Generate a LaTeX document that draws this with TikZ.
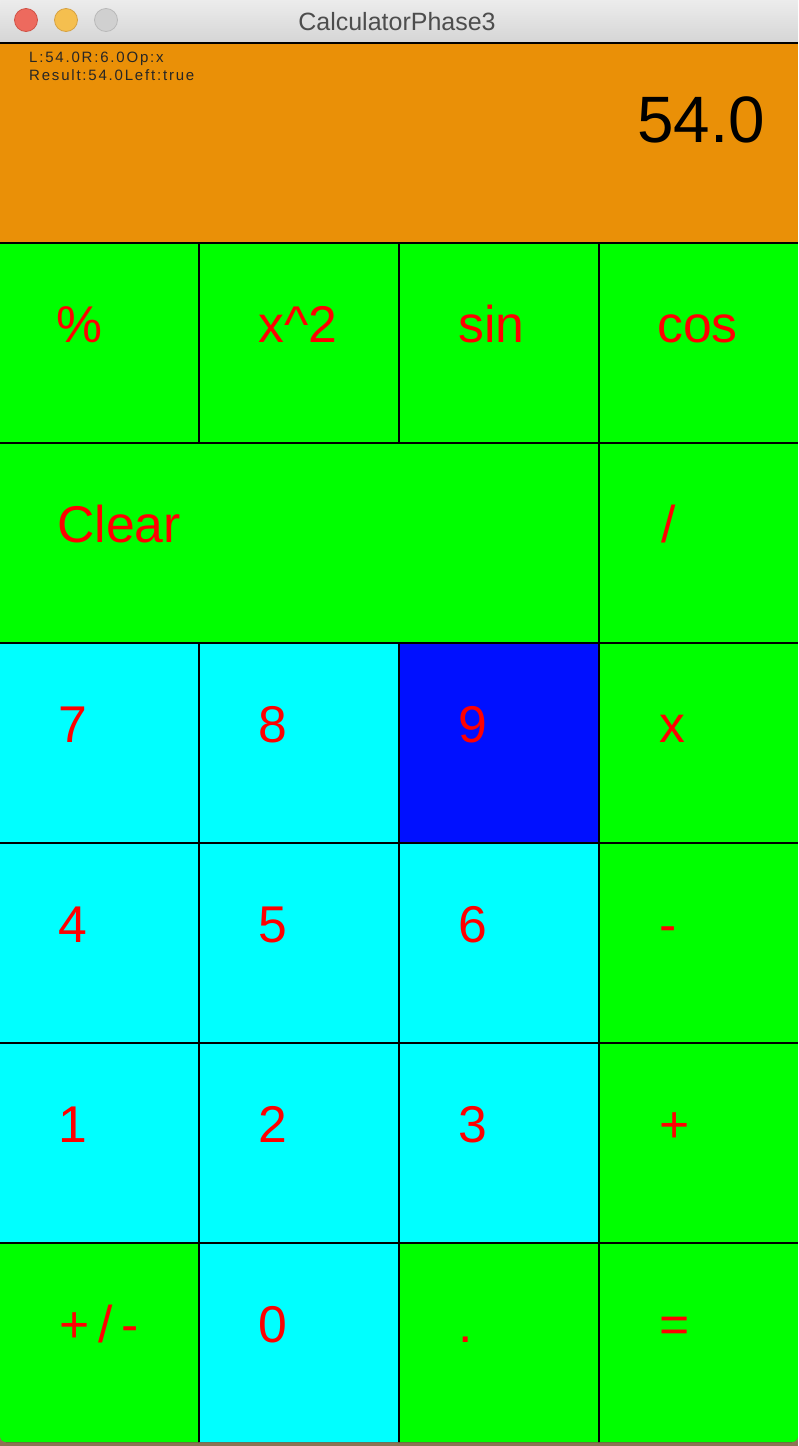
\documentclass[tikz,border=0pt]{standalone}
\usepackage{fontspec}
\setmainfont{Liberation Sans}
\definecolor{desk}{RGB}{140,116,84}
\definecolor{tbtop}{RGB}{236,236,236}
\definecolor{tbbot}{RGB}{213,213,213}
\definecolor{titlegrey}{RGB}{77,77,77}
\definecolor{disp}{RGB}{234,144,7}
\definecolor{kgreen}{RGB}{0,255,0}
\definecolor{kcyan}{RGB}{0,255,255}
\definecolor{kblue}{RGB}{0,16,255}
\definecolor{kred}{RGB}{255,0,0}
\definecolor{lred}{RGB}{237,106,94}
\definecolor{lredb}{RGB}{208,83,71}
\definecolor{lyel}{RGB}{245,191,79}
\definecolor{lyelb}{RGB}{214,162,67}
\definecolor{lgry}{RGB}{208,208,208}
\definecolor{lgryb}{RGB}{185,185,185}
\tikzset{
  cell/.style={draw=black, line width=2pt, inner sep=0pt, outer sep=0pt, anchor=north west, minimum height=200pt},
  keytxt/.style={text=kred, inner sep=0pt, anchor=base west, font=\fontsize{51.7}{60}\selectfont},
  light/.style={circle, inner sep=0pt, minimum size=23pt, line width=0.8pt},
  smalltxt/.style={text=black!85, inner sep=0pt, anchor=base west, font=\fontsize{15}{17}\selectfont\addfontfeature{LetterSpace=12}}
}
\begin{document}
\begin{tikzpicture}[x=1pt,y=-1pt]
\useasboundingbox (0,0) rectangle (798,1446);
\fill[desk] (0,0) rectangle (798,1446);
\fill[tbtop] (0,0) rectangle (798,20);
\begin{scope}
\clip[rounded corners=6pt] (0,0) rectangle (798,1442);
\shade[top color=tbtop, bottom color=tbbot] (0,0) rectangle (798,43);
\fill[disp] (0,43) rectangle (798,243);
\draw[line width=2pt] (0,43) -- (798,43);
% title bar
\node[light, fill=lred, draw=lredb] (close) at (26,20) {};
\node[light, fill=lyel, draw=lyelb] (mini) at (66,20) {};
\node[light, fill=lgry, draw=lgryb] (zoomb) at (106,20) {};
\node[text=titlegrey, inner sep=0pt, anchor=base, font=\fontsize{25}{28}\selectfont] (title) at (397,30) {CalculatorPhase3};
% display
\node[smalltxt] (st1) at (29,62) {L:54.0R:6.0Op:x};
\node[smalltxt] (st2) at (29,80) {Result:54.0Left:true};
\node[inner sep=0pt, anchor=base east, font=\fontsize{65.6}{70}\selectfont] (disp) at (765,142) {54.0};
% row 1
\node[cell, fill=kgreen, minimum width=200pt] (c11) at (-1,243) {};
\node[cell, fill=kgreen, minimum width=200pt] (c12) at (199,243) {};
\node[cell, fill=kgreen, minimum width=200pt] (c13) at (399,243) {};
\node[cell, fill=kgreen, minimum width=201pt] (c14) at (599,243) {};
% row 2
\node[cell, fill=kgreen, minimum width=600pt] (c21) at (-1,443) {};
\node[cell, fill=kgreen, minimum width=201pt] (c24) at (599,443) {};
% row 3
\node[cell, fill=kcyan, minimum width=200pt] (c31) at (-1,643) {};
\node[cell, fill=kcyan, minimum width=200pt] (c32) at (199,643) {};
\node[cell, fill=kblue, minimum width=200pt] (c33) at (399,643) {};
\node[cell, fill=kgreen, minimum width=201pt] (c34) at (599,643) {};
% row 4
\node[cell, fill=kcyan, minimum width=200pt] (c41) at (-1,843) {};
\node[cell, fill=kcyan, minimum width=200pt] (c42) at (199,843) {};
\node[cell, fill=kcyan, minimum width=200pt] (c43) at (399,843) {};
\node[cell, fill=kgreen, minimum width=201pt] (c44) at (599,843) {};
% row 5
\node[cell, fill=kcyan, minimum width=200pt] (c51) at (-1,1043) {};
\node[cell, fill=kcyan, minimum width=200pt] (c52) at (199,1043) {};
\node[cell, fill=kcyan, minimum width=200pt] (c53) at (399,1043) {};
\node[cell, fill=kgreen, minimum width=201pt] (c54) at (599,1043) {};
% row 6
\node[cell, fill=kgreen, minimum width=200pt] (c61) at (-1,1243) {};
\node[cell, fill=kcyan, minimum width=200pt] (c62) at (199,1243) {};
\node[cell, fill=kgreen, minimum width=200pt] (c63) at (399,1243) {};
\node[cell, fill=kgreen, minimum width=201pt] (c64) at (599,1243) {};
% labels
\node[keytxt] (t11) at (56,342) {\%};
\node[keytxt] (t12) at (258,342) {x\textasciicircum2};
\node[keytxt] (t13) at (458,342) {sin};
\node[keytxt] (t14) at (657,342) {cos};
\node[keytxt] (t21) at (57,542) {Clear};
\node[keytxt] (t24) at (661,542) {/};
\node[keytxt] (t31) at (58,742) {7};
\node[keytxt] (t32) at (258,742) {8};
\node[keytxt] (t33) at (458,742) {9};
\node[keytxt] (t34) at (659,742) {x};
\node[keytxt] (t41) at (58,942) {4};
\node[keytxt] (t42) at (258,942) {5};
\node[keytxt] (t43) at (458,942) {6};
\node[keytxt] (t44) at (659,942) {-};
\node[keytxt] (t51) at (58,1142) {1};
\node[keytxt] (t52) at (258,1142) {2};
\node[keytxt] (t53) at (458,1142) {3};
\node[keytxt] (t54) at (659,1142) {+};
\node[keytxt] (t61) at (59,1342) {+\kern9pt/\kern9pt-};
\node[keytxt] (t62) at (258,1342) {0};
\node[keytxt] (t63) at (458,1342) {.};
\node[keytxt] (t64) at (659,1342) {=};
\end{scope}
\end{tikzpicture}
\end{document}
